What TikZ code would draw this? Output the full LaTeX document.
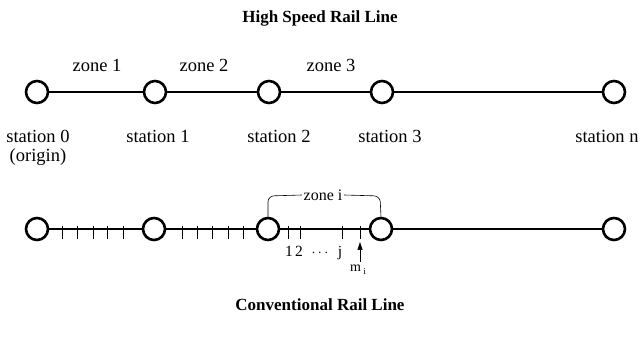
\documentclass[tikz,border=0pt]{standalone}
\usepackage{fontspec}
\setmainfont{Liberation Serif}
\usetikzlibrary{arrows.meta}
\begin{document}
\begin{tikzpicture}[x=1pt,y=-1pt,
  stn/.style={circle,draw,line width=2.6pt,minimum size=22pt,inner sep=0pt,fill=white},
  lbl/.style={font=\fontsize{18.5}{21}\selectfont,inner sep=0pt,anchor=base},
  ttl/.style={font=\fontsize{17}{20}\selectfont\bfseries,inner sep=0pt},
  num/.style={font=\fontsize{15.5}{17}\selectfont,inner sep=0pt,anchor=base},
  tk/.style={line width=0.6pt},
  track/.style={line width=2.2pt}]
\useasboundingbox (0,0) rectangle (641,339);
\node[ttl] (t1) at (320,18) {High Speed Rail Line};
\node[ttl] (t2) at (320,305) {Conventional Rail Line};
% top line
\coordinate (a0) at (37,92);
\coordinate (a1) at (155,92);
\coordinate (a2) at (269,92);
\coordinate (a3) at (382,92);
\coordinate (an) at (614,92);
\draw[track] (a0) -- (an);
\foreach \n in {a0,a1,a2,a3,an} \node[stn] (s\n) at (\n) {};
\node[lbl] (z1) at (97,72) {zone 1};
\node[lbl] (z2) at (204,72) {zone 2};
\node[lbl] (z3) at (331,72) {zone 3};
\node[lbl] (l0) at (38,143) {station 0};
\node[lbl] (l0b) at (38,162) {(origin)};
\node[lbl] (l1) at (158,143) {station 1};
\node[lbl] (l2) at (279,143) {station 2};
\node[lbl] (l3) at (390,143) {station 3};
\node[lbl] (ln) at (607,143) {station n};
% bottom line
\coordinate (b0) at (37,229);
\coordinate (b1) at (154,229);
\coordinate (b2) at (268,229);
\coordinate (b3) at (381,229);
\coordinate (bn) at (614,229);
\draw[line width=1.8pt] (b0) -- (b2);
\draw[track] (b2) -- (bn);
\foreach \x in {62,77,93,107,123,182,197,212,228,243,288,300,342,360}
  \draw[tk] (\x,226) -- (\x,239);
\foreach \n in {b0,b1,b2,b3,bn} \node[stn] (s\n) at (\n) {};
\node[font=\fontsize{16}{18}\selectfont,inner sep=1.5pt] (zi) at (323,195) {zone i};
\draw[line width=0.6pt,rounded corners=6pt] (sb2.north) -- (268,196) -- (zi.west);
\draw[line width=0.6pt,rounded corners=6pt] (sb3.north) -- (380,196) -- (zi.east);
\node[num] (n1) at (289,257) {1};
\node[num] (n2) at (299,257) {2};
\node[num] (nd) at (320,257) {$\cdots$};
\node[num] (nj) at (340,257) {j};
\node[font=\fontsize{14}{16}\selectfont,inner sep=0pt] (mi) at (358,270) {m\,\raisebox{-3pt}{\fontsize{9}{10}\selectfont i}};
\coordinate (arrtop) at (360,242);
\draw[line width=0.7pt,-{Triangle[length=8pt,width=5pt]}] (360,262) -- (arrtop);
\end{tikzpicture}
\end{document}
